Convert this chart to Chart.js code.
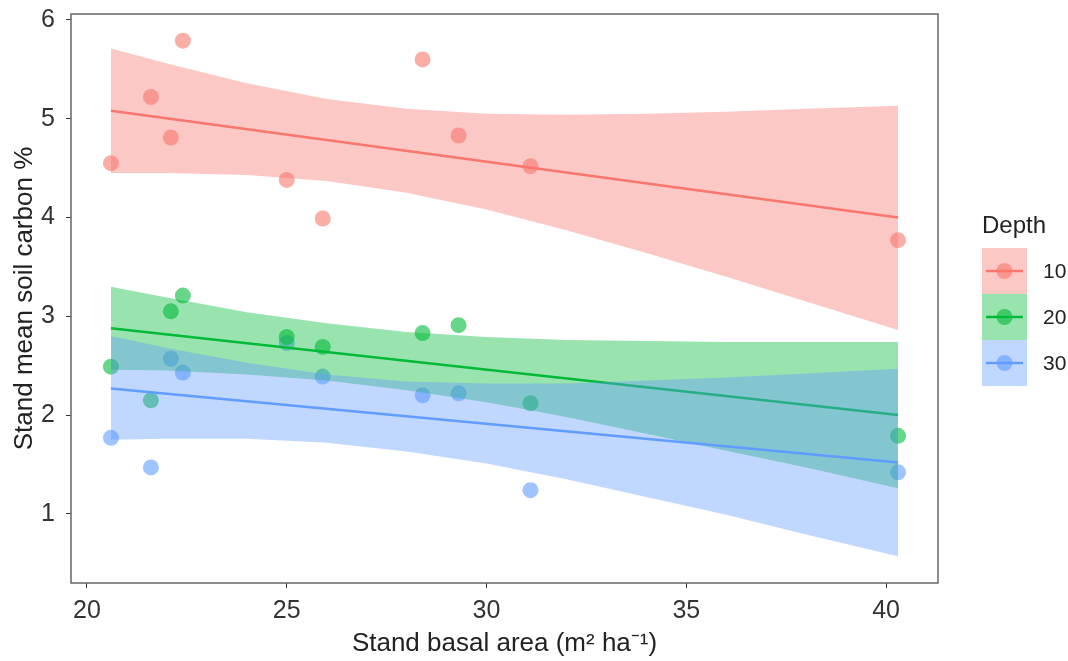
<!DOCTYPE html>
<html>
<head>
<meta charset="utf-8">
<script src="https://cdn.jsdelivr.net/npm/chart.js@4"></script>
<style>
  body { margin: 0; background: #fff; }
</style>
</head>
<body>
<canvas id="chart" width="1068" height="661"></canvas>
<script>
// Stand basal area for each stand (same stands at every depth)
const basalArea = [20.6, 21.6, 22.1, 22.4, 25.0, 25.9, 28.4, 29.3, 31.1, 40.3];

// Soil carbon % per depth
const carbon10 = [4.55, 5.22, 4.81, 5.79, 4.38, 3.99, 5.60, 4.83, 4.52, 3.77];
const carbon20 = [2.49, 2.15, 3.05, 3.21, 2.79, 2.69, 2.83, 2.91, 2.12, 1.79];
const carbon30 = [1.77, 1.47, 2.57, 2.43, 2.73, 2.39, 2.20, 2.22, 1.24, 1.42];

// Fitted lm lines (ends)
const fitX = [20.6, 40.3];
const fit10 = [5.08, 4.0];
const fit20 = [2.88, 2.0];
const fit30 = [2.27, 1.52];

// 95% confidence ribbons, estimated at these x positions
const bandX = [20.6, 22, 24, 26, 28, 30, 32, 34, 36, 38, 40.3];
const upper10 = [5.71, 5.56, 5.36, 5.2, 5.1, 5.05, 5.04, 5.05, 5.07, 5.1, 5.13];
const lower10 = [4.45, 4.45, 4.43, 4.37, 4.25, 4.08, 3.87, 3.64, 3.4, 3.15, 2.86];
const upper20 = [3.3, 3.19, 3.04, 2.93, 2.84, 2.79, 2.76, 2.75, 2.74, 2.74, 2.74];
const lower20 = [2.46, 2.45, 2.41, 2.35, 2.25, 2.13, 1.98, 1.81, 1.64, 1.47, 1.26];
const upper30 = [2.8, 2.68, 2.53, 2.41, 2.34, 2.32, 2.32, 2.35, 2.38, 2.42, 2.47];
const lower30 = [1.75, 1.76, 1.76, 1.72, 1.63, 1.51, 1.35, 1.17, 0.99, 0.79, 0.57];

const depths = ["10", "20", "30"];
const xTicks = [20, 25, 30, 35, 40];
const yTicks = [1, 2, 3, 4, 5, 6];

const rgb = ["248,118,109", "0,186,56", "97,156,255"];
const FONT = "'Liberation Sans', Arial, sans-serif";

Chart.defaults.font.family = FONT;

const toPoints = (xs, ys) => xs.map((x, i) => ({ x, y: ys[i] }));

const pointSets = [carbon10, carbon20, carbon30];
const fits = [fit10, fit20, fit30];
const uppers = [upper10, upper20, upper30];
const lowers = [lower10, lower20, lower30];

const datasets = [];

// Points at the bottom (as in geom_point + geom_smooth)
pointSets.forEach((vals, i) => {
  datasets.push({
    label: `points ${depths[i]}`,
    data: toPoints(basalArea, vals),
    showLine: false,
    pointRadius: 8,
    pointBackgroundColor: `rgba(${rgb[i]},0.6)`,
    pointBorderWidth: 0,
    order: 20,
  });
});

// Ribbon then line for each depth, each group drawn over the previous
depths.forEach((d, i) => {
  const upperIndex = datasets.length;
  datasets.push({
    label: `upper ${d}`,
    data: toPoints(bandX, uppers[i]),
    borderWidth: 0,
    pointRadius: 0,
    fill: upperIndex + 1,
    backgroundColor: `rgba(${rgb[i]},0.4)`,
    order: 10 - i * 3,
  });
  datasets.push({
    label: `lower ${d}`,
    data: toPoints(bandX, lowers[i]),
    borderWidth: 0,
    pointRadius: 0,
    fill: false,
    order: 10 - i * 3,
  });
  datasets.push({
    label: `fit ${d}`,
    data: toPoints(fitX, fits[i]),
    borderColor: `rgb(${rgb[i]})`,
    borderWidth: 2.5,
    pointRadius: 0,
    fill: false,
    order: 9 - i * 3,
  });
});

// Panel border (top and right closed)
const panelBorder = {
  id: "panelBorder",
  afterDatasetsDraw(chart) {
    const { ctx, chartArea } = chart;
    ctx.save();
    ctx.strokeStyle = "#666";
    ctx.lineWidth = 1.5;
    ctx.strokeRect(chartArea.left, chartArea.top, chartArea.right - chartArea.left, chartArea.bottom - chartArea.top);
    ctx.restore();
  },
};

// ggplot style legend with ribbon, line and point keys
const depthLegend = {
  id: "depthLegend",
  afterDraw(chart) {
    const ctx = chart.ctx;
    const left = 982;
    const keyW = 45;
    const keyH = 46;
    const top = 248;

    ctx.save();
    ctx.fillStyle = "#222";
    ctx.font = `24px ${FONT}`;
    ctx.textBaseline = "middle";
    ctx.textAlign = "left";
    ctx.fillText("Depth", left, 226);

    depths.forEach((d, i) => {
      const y = top + i * keyH;
      const cy = y + keyH / 2;

      ctx.fillStyle = `rgba(${rgb[i]},0.4)`;
      ctx.fillRect(left, y, keyW, keyH);

      ctx.strokeStyle = `rgb(${rgb[i]})`;
      ctx.lineWidth = 2.5;
      ctx.beginPath();
      ctx.moveTo(left + 4, cy);
      ctx.lineTo(left + keyW - 4, cy);
      ctx.stroke();

      ctx.fillStyle = `rgba(${rgb[i]},0.6)`;
      ctx.beginPath();
      ctx.arc(left + keyW / 2, cy, 8, 0, Math.PI * 2);
      ctx.fill();

      ctx.fillStyle = "#222";
      ctx.font = `21px ${FONT}`;
      ctx.fillText(d, left + 61, cy + 1);
    });
    ctx.restore();
  },
};

new Chart(document.getElementById("chart"), {
  type: "line",
  data: { datasets },
  plugins: [panelBorder, depthLegend],
  options: {
    responsive: false,
    devicePixelRatio: 1,
    animation: false,
    layout: {
      padding: { top: 14, right: 130, left: 0, bottom: 0 },
    },
    elements: {
      line: { tension: 0 },
    },
    plugins: {
      legend: { display: false },
      tooltip: { enabled: false },
      filler: { drawTime: "beforeDatasetDraw" },
    },
    scales: {
      x: {
        type: "linear",
        min: 19.6,
        max: 41.3,
        afterBuildTicks: (scale) => {
          scale.ticks = xTicks.map((value) => ({ value }));
        },
        afterFit: (scale) => {
          scale.height = 78;
        },
        grid: {
          drawOnChartArea: false,
          drawTicks: true,
          tickLength: 5,
          color: "#333",
        },
        border: { display: false },
        ticks: {
          padding: 8,
          color: "#333",
          font: { size: 25 },
          maxRotation: 0,
        },
        title: {
          display: true,
          text: "Stand basal area (m² ha⁻¹)",
          color: "#222",
          font: { size: 26 },
          padding: { top: 0, bottom: 2 },
        },
      },
      y: {
        type: "linear",
        min: 0.3,
        max: 6.06,
        afterBuildTicks: (scale) => {
          scale.ticks = yTicks.map((value) => ({ value }));
        },
        afterFit: (scale) => {
          scale.width = 71;
          scale.paddingTop = 0;
          scale.paddingBottom = 0;
        },
        grid: {
          drawOnChartArea: false,
          drawTicks: true,
          tickLength: 5,
          color: "#333",
        },
        border: { display: false },
        ticks: {
          padding: 11,
          color: "#333",
          font: { size: 25 },
        },
        title: {
          display: true,
          text: "Stand mean soil carbon %",
          color: "#222",
          font: { size: 26 },
          padding: { top: 9, bottom: 0 },
        },
      },
    },
  },
});
</script>
</body>
</html>
